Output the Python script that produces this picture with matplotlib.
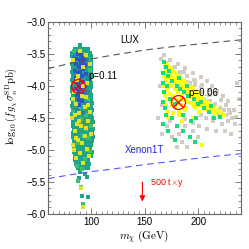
import numpy as np
import matplotlib
matplotlib.use("Agg")
import matplotlib.pyplot as plt
from matplotlib.ticker import MultipleLocator

plt.rcParams['font.family'] = ['Liberation Sans', 'DejaVu Sans']
plt.rcParams['mathtext.fontset'] = 'cm'

# ---- limit curves ----
lux_x = [60, 80, 100, 120, 150, 180, 210, 240]
lux_y = [-3.73, -3.65, -3.58, -3.52, -3.44, -3.38, -3.33, -3.28]
xe_x = [60, 80, 100, 120, 150, 180, 210, 240]
xe_y = [-5.45, -5.39, -5.34, -5.30, -5.23, -5.17, -5.11, -5.06]

# ---- cluster near 90 GeV: teal body ----
rows1 = {
    -3.36: [90],
    -3.42: [85, 88, 91, 94.5, 97],
    -3.48: [82.5, 85.5, 88.5, 91.5, 94, 97, 99.5],
    -3.54: [82, 84.5, 87.5, 90.5, 93.5, 96.5, 100],
    -3.60: [83, 86, 89, 92, 95, 98, 100.5],
    -3.66: [82, 85, 88, 91, 94, 97, 100],
    -3.72: [83.5, 86.5, 89.5, 92.5, 95.5, 98.5, 100.5],
    -3.78: [82, 85, 88, 91, 94, 97, 100],
    -3.84: [83, 86, 89, 92.5, 95.5, 98.5, 100.5],
    -3.90: [82, 84.5, 87.5, 90.5, 93.5, 96.5, 99.5],
    -3.96: [83, 86, 89, 92, 95, 98, 100.5],
    -4.02: [82.5, 85.5, 88.5, 91.5, 94.5, 97.5, 100],
    -4.08: [82, 84.5, 87.5, 90.5, 93.5, 96.5, 99.5],
    -4.14: [83, 86, 89, 92, 95, 98, 100.5],
    -4.20: [82.5, 85.5, 88.5, 91.5, 94.5, 97.5, 100],
    -4.26: [83, 86, 89, 92, 95, 98, 101],
    -4.32: [82.5, 85, 88, 91, 94, 97, 100],
    -4.38: [83.5, 86.5, 89.5, 92.5, 95.5, 98.5, 101],
    -4.44: [82.5, 85.5, 88.5, 91.5, 94.5, 97.5, 100.5],
    -4.50: [83, 86, 89, 92, 95, 98, 101],
    -4.56: [83.5, 86.5, 89.5, 92.5, 95.5, 98.5, 101.5],
    -4.62: [83, 85.5, 88.5, 91.5, 94.5, 97.5, 100.5],
    -4.68: [84, 87, 90, 93, 96, 99, 101.5],
    -4.74: [83, 86, 89, 92, 95, 98, 101],
    -4.80: [83.5, 86.5, 89.5, 92.5, 95.5, 98.5, 101.5],
    -4.86: [84, 87, 90, 93, 96, 99, 101],
    -4.92: [83.5, 86, 89, 92, 95, 98, 100.5],
    -4.98: [84.5, 87.5, 90.5, 93.5, 96.5, 99.5],
    -5.04: [84, 87, 90, 93, 96, 99, 101],
    -5.10: [85, 88, 91, 94, 97, 100],
    -5.16: [85.5, 88.5, 91.5, 94.5, 97.5],
    -5.22: [86.5, 89.5, 92.5, 95.5, 98],
    -5.28: [88, 91, 94, 97],
}
teal1_x = [x for y, xs in rows1.items() for x in xs] + [90, 94, 89, 96, 92, 97]
teal1_y = [y for y, xs in rows1.items() for x in xs] + [-5.35, -5.38, -5.44, -5.42, -5.72, -5.74]

# green-ish sprinkles in the band
grn1_x = [84, 92, 97, 86, 99, 89, 83, 95, 91, 87, 100, 85, 93, 98, 88, 84, 96, 90,
          86, 94, 99, 87, 92, 85, 97, 90, 95, 88, 91, 93]
grn1_y = [-3.45, -3.5, -3.58, -3.62, -3.75, -4.35, -4.4, -4.45, -4.52, -4.6, -4.63,
          -4.7, -4.78, -4.82, -4.9, -4.96, -5.0, -5.05, -5.12, -5.15, -5.02, -5.25,
          -5.3, -4.25, -4.2, -4.3, -4.68, -5.48, -5.58, -5.84]

# blue core
blue1_x = [88, 91, 86.5, 89.5, 92.5, 86, 88.5, 91, 94, 85.5, 87.5, 90, 93, 86, 89,
           91.5, 95, 87.5, 90, 92.5, 86, 88.5, 91, 94, 87, 90, 93, 88.5, 91.5, 89, 93]
blue1_y = [-3.5, -3.52, -3.58, -3.6, -3.57, -3.66, -3.7, -3.65, -3.68, -3.76, -3.8,
           -3.78, -3.74, -3.87, -3.9, -3.85, -3.82, -3.96, -4.0, -3.94, -4.05, -4.08,
           -4.03, -4.0, -4.14, -4.16, -4.12, -4.22, -4.24, -4.3, -3.62]

mid1_x = [84, 96, 85, 97, 84.5, 96, 85, 95.5, 87, 93]
mid1_y = [-3.55, -3.6, -3.8, -3.88, -4.05, -4.1, -4.2, -4.28, -4.38, -4.42]

yel1_x = [90, 95, 83, 93, 88, 96, 84, 92, 86, 94, 89, 82.5, 97, 91, 85, 94, 88, 83.5,
          96, 90, 86, 93, 85, 92, 87, 97, 84, 91, 93, 92.5, 87, 95, 83, 99, 100, 98,
          89, 86, 95, 99]
yel1_y = [-3.45, -3.52, -3.6, -3.7, -3.85, -3.95, -4.1, -4.15, -4.28, -4.33, -4.42,
          -4.5, -4.55, -4.62, -4.7, -4.78, -4.85, -4.92, -4.98, -5.05, -5.12, -5.2,
          -4.45, -4.9, -4.6, -4.3, -5.0, -5.6, -4.0, -5.9, -3.9, -4.65, -4.2, -4.4,
          -4.75, -5.1, -4.55, -4.82, -4.18, -3.65]

# ---- cluster near 185 GeV ----
gray2_x = [165, 168, 174, 176, 181, 183, 188, 190, 195, 197, 203, 204, 208, 210, 213,
           216, 218, 221, 223, 226, 228, 230, 232, 234, 228, 222, 214, 207, 201, 195,
           188, 182, 176, 185, 190, 200, 208, 217, 225, 231, 236, 238, 226, 220, 211,
           204, 197, 190, 166, 164, 163, 174, 166, 180, 229, 235, 224, 216, 210, 203,
           196, 170, 174, 178, 182, 187, 192, 233, 219, 212, 188, 171, 195, 203, 214]
gray2_y = [-3.58, -3.52, -3.6, -3.72, -3.66, -3.78, -3.72, -3.84, -3.8, -3.93, -3.86,
           -3.98, -3.92, -4.06, -4.0, -4.12, -4.08, -4.22, -4.16, -4.3, -4.24, -4.42,
           -4.5, -4.6, -4.55, -4.6, -4.55, -4.5, -4.62, -4.7, -4.62, -4.75, -4.8,
           -4.88, -4.95, -4.8, -4.68, -4.7, -4.7, -4.75, -3.95, -4.2, -4.45, -4.34,
           -4.24, -4.1, -3.98, -3.94, -4.3, -4.0, -4.5, -4.55, -4.75, -4.95, -4.38,
           -4.48, -4.38, -4.28, -4.14, -4.02, -3.9, -3.64, -3.76, -3.7, -3.82, -3.78,
           -3.96, -4.38, -4.45, -4.4, -4.52, -4.62, -4.58, -4.45, -4.48]

yel2_x = [169, 171, 173, 175, 177, 179, 181, 183, 185, 187, 189, 191, 193, 195, 197,
          199, 201, 203, 205, 207, 209, 211, 213, 215, 217, 219, 221, 224,
          170, 172, 174, 176, 178, 180, 182, 184, 186, 188, 190, 192, 194, 196, 198,
          200, 202, 204, 206, 208, 210, 213, 216,
          168, 170, 173, 168, 171, 175, 178, 169, 173, 177, 181, 185, 170, 175, 180,
          189, 184, 193, 172, 178, 197, 188, 201, 182, 204, 185, 195,
          170, 174, 178, 182, 186, 190, 194, 198, 202, 206, 210, 171, 176, 181, 186,
          191, 196, 169, 174, 179, 184, 189, 172, 177, 182, 187]
yel2_y = [-3.65, -3.68, -3.72, -3.74, -3.78, -3.8, -3.84, -3.86, -3.9, -3.93, -3.96,
          -3.99, -4.02, -4.05, -4.08, -4.11, -4.14, -4.17, -4.2, -4.23, -4.26, -4.28,
          -4.31, -4.34, -4.37, -4.39, -4.42, -4.45,
          -3.75, -3.8, -3.83, -3.86, -3.9, -3.92, -3.95, -3.98, -4.01, -4.04, -4.07,
          -4.1, -4.13, -4.15, -4.18, -4.21, -4.24, -4.27, -4.3, -4.33, -4.36, -4.39,
          -4.42,
          -3.85, -3.9, -3.95, -4.0, -4.05, -4.0, -4.05, -4.15, -4.12, -4.15, -4.1,
          -4.15, -4.3, -4.25, -4.22, -4.2, -4.3, -4.27, -4.4, -4.35, -4.33, -4.38,
          -4.4, -4.45, -4.93, -4.55, -4.5,
          -3.8, -3.88, -3.95, -4.0, -4.06, -4.12, -4.18, -4.25, -4.3, -4.36, -4.41,
          -4.2, -4.3, -4.26, -4.22, -4.25, -4.32, -3.72, -3.78, -3.88, -4.2, -4.35,
          -4.48, -4.43, -4.4, -4.46]

grn2_x = [168, 170, 167, 172, 167, 176, 171, 180, 183, 168, 174, 187, 191, 167, 178,
          196, 200, 170, 176, 205, 210, 186, 193, 167, 180, 198, 178, 192, 197, 172,
          215, 220, 186, 173, 182, 190, 169, 203, 212]
grn2_y = [-3.62, -3.7, -3.8, -3.85, -3.95, -3.92, -4.0, -4.0, -4.05, -4.1, -4.2, -4.1,
          -4.15, -4.25, -4.28, -4.2, -4.28, -4.45, -4.5, -4.35, -4.4, -4.45, -4.55,
          -4.6, -4.62, -4.5, -4.85, -4.8, -4.88, -4.7, -4.5, -4.48, -4.7, -3.76,
          -3.88, -4.0, -4.35, -4.25, -4.32]

bench_x = [88, 181]
bench_y = [-4.0, -4.25]

fig = plt.figure(figsize=(2.49, 2.49), dpi=100)
ax = fig.add_axes([0.193, 0.141, 0.775, 0.771])

s1 = 8
s2 = 5
ax.scatter(gray2_x, gray2_y, s=s2, marker='s', c='#d2ccc4', linewidths=0)
ax.scatter(teal1_x, teal1_y, s=s1, marker='s', c='#21a387', linewidths=0)
ax.scatter(grn1_x, grn1_y, s=s1 - 2, marker='s', c='#3cc070', linewidths=0)
ax.scatter(mid1_x, mid1_y, s=s1 - 2, marker='s', c='#2582a0', linewidths=0)
ax.scatter(blue1_x, blue1_y, s=s1 - 1, marker='s', c='#2f52c8', linewidths=0)
ax.scatter(yel1_x, yel1_y, s=s1 - 3, marker='s', c='#e2e21c', linewidths=0)
ax.scatter(yel2_x, yel2_y, s=s2, marker='s', c='#ffff00', linewidths=0)
ax.scatter(grn2_x, grn2_y, s=s2, marker='s', c='#12de7c', linewidths=0)

ax.plot(lux_x, lux_y, color='#555555', lw=0.8, dashes=(6, 4))
ax.plot(xe_x, xe_y, color='#5555ff', lw=0.8, dashes=(6, 4))

ax.plot(bench_x, bench_y, 'o', mfc='none', mec='red', ms=10, mew=0.9)
ax.plot(bench_x, bench_y, 'x', color='red', ms=7, mew=0.9)

ax.text(127, -3.28, 'LUX', fontsize=7, va='center', ha='left')
ax.text(132, -5.0, 'Xenon1T', fontsize=7, va='center', ha='left', color='#2222ee')
ax.text(98, -3.84, 'p=0.11', fontsize=7, va='center', ha='left')
ax.text(190.5, -4.11, 'p=0.06', fontsize=7, va='center', ha='left')
ax.text(155, -5.52, '500 t$\\times$y', fontsize=6.5, va='center', ha='left', color='red')
ax.annotate('', xy=(148, -5.85), xytext=(148, -5.46),
            arrowprops=dict(arrowstyle='-|>', color='red', lw=0.8, mutation_scale=8))

ax.set_xlim(60, 240)
ax.set_ylim(-6, -3)
ax.set_xticks([100, 150, 200])
ax.xaxis.set_minor_locator(MultipleLocator(5))
ax.yaxis.set_major_locator(MultipleLocator(0.5))
ax.yaxis.set_minor_locator(MultipleLocator(0.1))
ax.tick_params(which='both', direction='in', top=True, right=True,
               labelsize=7, color='#666666', pad=2)
ax.tick_params(which='major', length=4, width=0.6)
ax.tick_params(which='minor', length=2, width=0.5)
for sp in ax.spines.values():
    sp.set_color('#666666')
    sp.set_linewidth(0.8)

ax.set_xlabel(r'$m_\chi\ ({\rm GeV})$', fontsize=8, labelpad=1)
ax.set_ylabel(r'$\log_{10}(f\,g_\chi\sigma^{\rm SD}_n{\rm pb})$', fontsize=7.5)
ax.yaxis.set_label_coords(-0.15, 0.56)

fig.savefig('out.png', dpi=100)
